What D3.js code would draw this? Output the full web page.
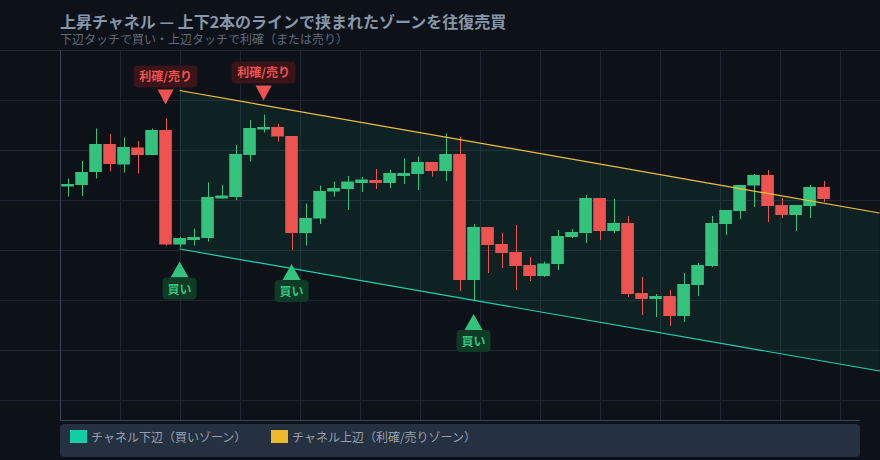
<!DOCTYPE html>
<html><head><meta charset="utf-8">
<script src="https://cdn.jsdelivr.net/npm/d3@7/dist/d3.min.js"></script>
<style>
html,body{margin:0;background:#0d1118;}
svg{display:block;font-family:"Noto Sans CJK JP","Noto Sans",sans-serif;}
</style></head>
<body><div id="chart"></div>
<script>
// OHLC per candle (price units)
const opens =[142.7,143.0,145.6,151.2,147.1,150.5,149.0,154.0,131.1,132.0,132.4,140.3,140.6,149.0,154.1,154.6,152.8,133.4,136.3,141.7,142.2,143.4,144.0,143.4,144.8,145.2,147.6,145.8,149.2,124.0,134.6,131.2,129.6,127.0,124.8,127.2,132.6,133.4,140.4,133.8,135.4,121.4,120.2,120.8,116.8,123.0,126.8,135.2,137.8,142.9,145.0,139.0,137.0,138.8,142.6];
const highs =[144.3,147.8,154.3,153.2,152.5,151.8,154.3,156.3,132.6,134.3,143.5,143.0,151.0,156.0,157.1,155.2,152.8,139.3,142.9,143.7,144.8,144.6,146.2,146.0,148.3,148.7,147.6,153.3,152.6,135.2,134.6,133.4,135.0,128.6,127.7,134.0,134.2,141.0,140.4,140.2,136.8,124.6,121.2,122.0,125.4,127.4,136.8,138.0,143.0,145.2,146.0,140.4,139.0,143.0,143.8];
const lows  =[140.7,140.8,144.3,145.7,145.5,145.3,149.0,130.9,130.5,130.9,131.7,140.3,140.0,147.7,153.5,151.7,130.0,130.9,135.2,140.7,138.0,141.6,142.2,142.4,143.2,142.0,144.7,143.8,121.8,120.0,125.4,126.4,122.0,123.8,124.6,126.0,132.4,131.4,132.0,133.4,120.6,117.0,116.6,114.8,115.6,120.8,126.6,133.0,136.2,138.6,135.6,136.4,133.8,136.4,139.6];
const closes=[143.2,145.6,151.2,147.2,150.6,149.0,154.0,131.1,132.4,132.6,140.6,140.9,149.2,154.4,154.6,152.7,133.4,136.4,141.8,142.4,143.7,144.1,143.4,145.4,145.4,147.6,145.8,149.2,124.0,134.6,131.0,129.4,126.8,124.8,127.3,132.8,133.6,140.4,133.8,135.4,121.2,120.2,120.8,116.8,123.2,127.0,135.4,138.0,143.0,145.0,138.8,137.0,139.0,142.6,140.2];

// channel anchors: candle index, upper / lower price
const channelIdx=[8,58];
const upperLine=[161.9,137.4];
const lowerLine=[130.2,105.8];

const sellIdx=[7,14];
const buyIdx=[8,16,29];

const legendItems=[
  {label:"チャネル下辺（買いゾーン）",color:"#0fd0a4"},
  {label:"チャネル上辺（利確/売りゾーン）",color:"#f0b92c"}
];

(function(){
  const W=880,H=460;
  const up="#34c37d",down="#ef5350";
  const svg=d3.select("#chart").append("svg").attr("width",W).attr("height",H);

  const x=d3.scaleLinear().domain([-0.54,56.6]).range([60,860]);
  const y=d3.scaleLinear().domain([96,170]).range([420,50]);
  const gridX=d3.scaleLinear().domain([0,800/60]).range([60,860]);

  svg.append("text").attr("x",60).attr("y",28)
    .attr("font-size",16).attr("font-weight",700).attr("fill","#8697aa")
    .text("上昇チャネル — 上下2本のラインで挟まれたゾーンを往復売買");
  svg.append("text").attr("x",60).attr("y",44)
    .attr("font-size",12).attr("fill","#5f6b7c")
    .text("下辺タッチで買い・上辺タッチで利確（または売り）");

  // grid
  svg.append("g").selectAll("line").data(y.ticks(8)).join("line")
    .attr("x1",0).attr("x2",W).attr("y1",d=>y(d)+.5).attr("y2",d=>y(d)+.5)
    .attr("stroke","#1f2632");
  svg.append("g").selectAll("line").data(gridX.ticks(14)).join("line")
    .attr("x1",d=>gridX(d)+.5).attr("x2",d=>gridX(d)+.5).attr("y1",50).attr("y2",420)
    .attr("stroke","#1f2632");
  svg.append("line").attr("x1",60.5).attr("x2",60.5).attr("y1",50).attr("y2",420).attr("stroke","#3a4453");
  svg.append("line").attr("x1",60).attr("x2",860).attr("y1",420.5).attr("y2",420.5).attr("stroke","#3a4453");

  // channel zone
  const ch=channelIdx.map((d,i)=>({i:d,u:upperLine[i],l:lowerLine[i]}));
  svg.append("path").datum(ch)
    .attr("d",d3.area().x(d=>x(d.i)).y0(d=>y(d.l)).y1(d=>y(d.u)))
    .attr("fill","#1fd1a5").attr("fill-opacity",.085);

  // candles
  const data=opens.map((o,i)=>({i,o,h:highs[i],l:lows[i],c:closes[i]}));
  const bw=(x(1)-x(0))*.9;
  const g=svg.append("g");
  g.selectAll(".wick").data(data).join("line")
    .attr("x1",d=>Math.round(x(d.i))+.5).attr("x2",d=>Math.round(x(d.i))+.5)
    .attr("y1",d=>y(d.h)).attr("y2",d=>y(d.l))
    .attr("stroke",d=>d.c>=d.o?up:down).attr("stroke-width",1);
  g.selectAll(".body").data(data).join("rect")
    .attr("x",d=>x(d.i)-bw/2)
    .attr("y",d=>y(Math.max(d.o,d.c)))
    .attr("width",bw)
    .attr("height",d=>Math.max(1,Math.abs(y(d.o)-y(d.c))))
    .attr("fill",d=>d.c>=d.o?up:down);

  // channel lines
  svg.append("path").datum(ch).attr("d",d3.line().x(d=>x(d.i)).y(d=>y(d.u)))
    .attr("fill","none").attr("stroke","#f0c040").attr("stroke-width",1.2);
  svg.append("path").datum(ch).attr("d",d3.line().x(d=>x(d.i)).y(d=>y(d.l)))
    .attr("fill","none").attr("stroke","#1fd3b0").attr("stroke-width",1.2);

  // sell markers above highs
  sellIdx.forEach(i=>{
    const cx=x(i),tip=y(highs[i])-14;
    svg.append("path").attr("d",`M${cx},${tip}L${cx-8},${tip-15}L${cx+8},${tip-15}Z`).attr("fill",down);
    svg.append("rect").attr("x",cx-32).attr("y",tip-39).attr("width",64).attr("height",22).attr("rx",4)
      .attr("fill","#3a1419");
    svg.append("text").attr("x",cx).attr("y",tip-24).attr("text-anchor","middle")
      .attr("font-size",12).attr("font-weight",700).attr("fill",down).text("利確/売り");
  });
  // buy markers below lows
  buyIdx.forEach(i=>{
    const cx=x(i),tip=y(lows[i])+14;
    svg.append("path").attr("d",`M${cx},${tip}L${cx-9},${tip+16}L${cx+9},${tip+16}Z`).attr("fill",up);
    svg.append("rect").attr("x",cx-17).attr("y",tip+16).attr("width",34).attr("height",22).attr("rx",4)
      .attr("fill","#0e3a26");
    svg.append("text").attr("x",cx).attr("y",tip+32).attr("text-anchor","middle")
      .attr("font-size",12).attr("font-weight",700).attr("fill",up).text("買い");
  });

  // legend
  const lg=svg.append("g").attr("transform","translate(60,424)");
  lg.append("rect").attr("width",800).attr("height",33).attr("rx",4).attr("fill","#253040");
  const items=lg.selectAll(".it").data(legendItems).join("g")
    .attr("transform",(d,i)=>`translate(${10+i*201},6)`);
  items.append("rect").attr("width",17).attr("height",13).attr("fill",d=>d.color);
  items.append("text").attr("x",21).attr("y",11.5).attr("font-size",12).attr("fill","#97a1ae").text(d=>d.label);
})();
</script>
</body></html>
